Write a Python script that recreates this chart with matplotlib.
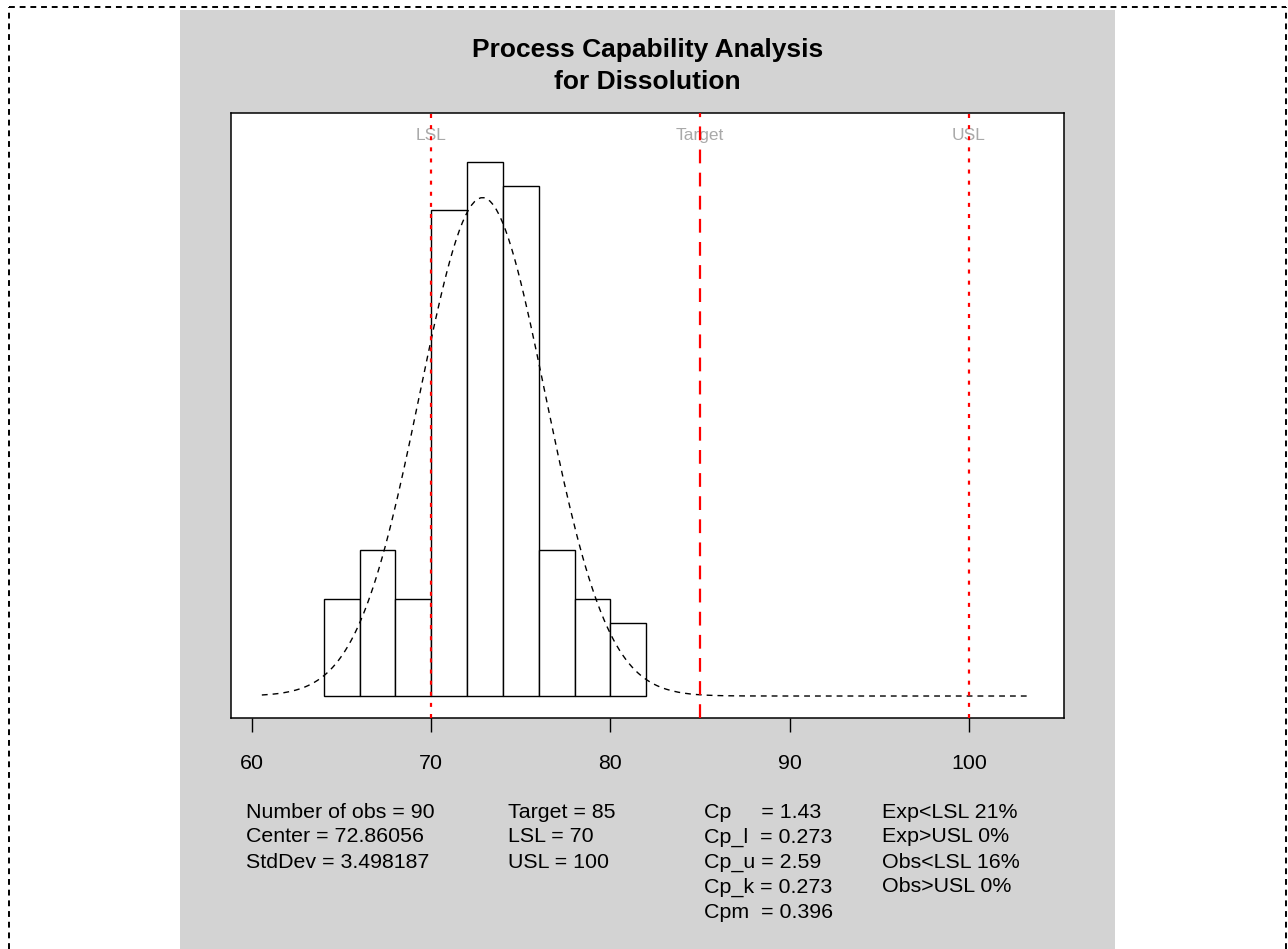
import matplotlib
matplotlib.use('Agg')
import matplotlib.pyplot as plt
from matplotlib.patches import Rectangle
from matplotlib.lines import Line2D
import numpy as np

plt.rcParams['font.family'] = ['Liberation Sans', 'DejaVu Sans']

# histogram of the Dissolution data
bin_edges = [64, 66, 68, 70, 72, 74, 76, 78, 80, 82]
counts = [4, 6, 4, 20, 22, 21, 6, 4, 3]

n_obs = 90
center = 72.86056
stddev = 3.498187
lsl = 70
target = 85
usl = 100
curve_range = [60.55, 103.4]

stats_col1 = ['Number of obs = 90', 'Center = 72.86056', 'StdDev = 3.498187']
stats_col2 = ['Target = 85', 'LSL = 70', 'USL = 100']
stats_col3 = ['Cp     = 1.43', 'Cp_l  = 0.273', 'Cp_u = 2.59', 'Cp_k = 0.273', 'Cpm  = 0.396']
stats_col4 = ['Exp<LSL 21%', 'Exp>USL 0%', 'Obs<LSL 16%', 'Obs>USL 0%']

W, H = 1288, 949
fig = plt.figure(figsize=(W / 100, H / 100), dpi=100)
fig.patch.set_facecolor('white')

# gray panel
fig.add_artist(Rectangle((180 / W, 0), (1115 - 180) / W, 1 - 10 / H,
                         transform=fig.transFigure, facecolor='#d3d3d3',
                         edgecolor='none', zorder=0))
# dashed frame
for xs, ys in [([9 / W, 1286 / W], [1 - 7 / H, 1 - 7 / H]),
               ([9 / W, 9 / W], [0, 1 - 7 / H]),
               ([1286 / W, 1286 / W], [0, 1 - 7 / H])]:
    fig.add_artist(Line2D(xs, ys, transform=fig.transFigure, color='black',
                          lw=1.4, linestyle=(0, (3, 2.5))))

ax = fig.add_axes([231 / W, 1 - 718 / H, (1064 - 231) / W, (718 - 113) / H])
ax.set_facecolor('white')

edges = np.array(bin_edges, dtype=float)
widths = np.diff(edges)
dens = np.array(counts) / (n_obs * widths)
ax.bar(edges[:-1], dens, width=widths, align='edge', facecolor='white',
       edgecolor='black', linewidth=1.0, zorder=2)

xx = np.linspace(curve_range[0], curve_range[1], 250)
yy = np.exp(-0.5 * ((xx - center) / stddev) ** 2) / (stddev * np.sqrt(2 * np.pi))
ax.plot(xx, yy, color='black', lw=1.0, linestyle=(0, (4.2, 3.6)), zorder=3)

ax.axvline(lsl, color='red', lw=1.6, linestyle=(0, (1.8, 3.2)), zorder=4)
ax.axvline(usl, color='red', lw=1.6, linestyle=(0, (1.8, 3.2)), zorder=4)
ax.axvline(target, color='red', lw=1.6, linestyle=(0, (6.2, 4.2)), zorder=4)

for xv, lab in [(lsl, 'LSL'), (target, 'Target'), (usl, 'USL')]:
    ax.text(xv, 0.9636, lab, transform=ax.get_xaxis_transform(), ha='center',
            va='center', color='#a9a9a9', fontsize=12.5, zorder=1)

ax.set_xlim(58.83, 105.3)
ax.set_ylim(-0.00503, 0.1334)
ax.set_xticks([60, 70, 80, 90, 100])
ax.set_yticks([])
ax.tick_params(axis='x', direction='out', length=10, width=1.0, pad=16,
               labelsize=15.4)
for sp in ax.spines.values():
    sp.set_linewidth(1.1)

fig.text(647.5 / W, 1 - 50 / H, 'Process Capability Analysis', ha='center',
         va='center', fontsize=19, fontweight='bold')
fig.text(647.5 / W, 1 - 82 / H, 'for Dissolution', ha='center',
         va='center', fontsize=19, fontweight='bold')

row_y = [812, 837, 862, 887, 912]
for xpos, col in [(246, stats_col1), (508, stats_col2), (704, stats_col3), (882, stats_col4)]:
    for i, s in enumerate(col):
        fig.text(xpos / W, 1 - row_y[i] / H, s, ha='left', va='center', fontsize=15.4)

fig.savefig('out.png', dpi=100)
